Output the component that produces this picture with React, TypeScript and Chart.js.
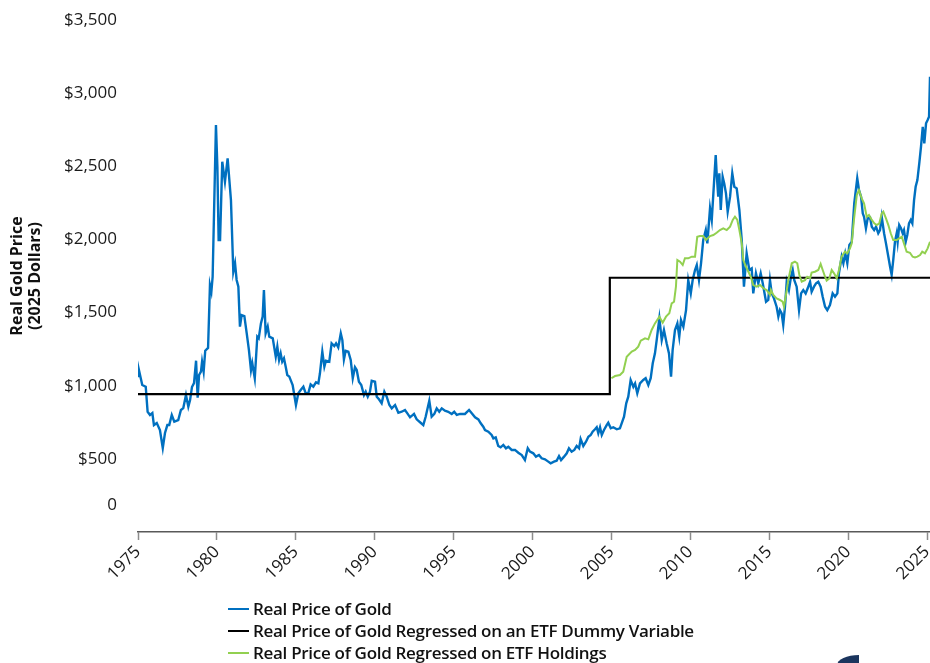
import React, { useEffect, useRef } from "react";
import { Chart, registerables } from "chart.js";

Chart.register(...registerables);

// ---- Data (year, real price in 2025 dollars) ----
const realPriceOfGold: [number, number][] = [
  [1975.0, 1066], [1975.06, 1107], [1975.27, 1005], [1975.49, 993], [1975.61, 822], [1975.76, 800], [1975.91, 813],
  [1976.01, 731], [1976.19, 745], [1976.39, 697], [1976.57, 574], [1976.71, 677], [1976.86, 731], [1976.98, 731],
  [1977.14, 800], [1977.3, 754], [1977.55, 765], [1977.72, 834], [1977.87, 847], [1978.04, 936], [1978.19, 857],
  [1978.3, 902], [1978.42, 991], [1978.55, 1018], [1978.68, 1171], [1978.78, 918], [1978.87, 1073], [1978.99, 1096],
  [1979.06, 1164], [1979.16, 1096], [1979.26, 1239], [1979.44, 1258], [1979.56, 1688], [1979.65, 1643], [1979.73, 1745],
  [1979.94, 2782], [1980.03, 2497], [1980.11, 1996], [1980.2, 1996], [1980.34, 2531], [1980.51, 2394], [1980.68, 2554],
  [1980.89, 2269], [1981.04, 1779], [1981.15, 1837], [1981.25, 1723], [1981.36, 1677], [1981.46, 1404], [1981.57, 1483],
  [1981.74, 1476], [1981.89, 1358], [1982.03, 1244], [1982.16, 1107], [1982.24, 1155], [1982.4, 1051], [1982.56, 1335],
  [1982.65, 1324], [1982.79, 1426], [1982.9, 1472], [1982.98, 1654], [1983.09, 1358], [1983.22, 1404], [1983.32, 1335],
  [1983.54, 1324], [1983.73, 1198], [1983.83, 1267], [1983.94, 1176], [1984.04, 1221], [1984.14, 1164], [1984.25, 1187],
  [1984.36, 1130], [1984.46, 1073], [1984.59, 1062], [1984.8, 1005], [1985.01, 868], [1985.16, 948], [1985.31, 971],
  [1985.48, 993], [1985.63, 948], [1985.79, 948], [1985.94, 1009], [1986.11, 993], [1986.28, 1023], [1986.43, 1016],
  [1986.53, 1085], [1986.68, 1233], [1986.81, 1130], [1986.91, 1171], [1987.12, 1164], [1987.27, 1290], [1987.44, 1271],
  [1987.55, 1290], [1987.69, 1262], [1987.85, 1358], [1987.95, 1312], [1988.05, 1180], [1988.16, 1239], [1988.33, 1233],
  [1988.48, 1176], [1988.61, 1051], [1988.75, 1126], [1988.86, 1107], [1989.0, 1027], [1989.15, 1005], [1989.32, 936],
  [1989.43, 959], [1989.56, 925], [1989.7, 959], [1989.81, 1034], [1990.02, 1027], [1990.13, 925], [1990.27, 907],
  [1990.44, 880], [1990.61, 959], [1990.76, 925], [1990.93, 868], [1991.08, 845], [1991.29, 868], [1991.5, 815],
  [1991.71, 822], [1991.92, 834], [1992.07, 811], [1992.24, 784], [1992.49, 807], [1992.66, 770], [1992.91, 747],
  [1993.08, 731], [1993.23, 788], [1993.46, 897], [1993.61, 788], [1993.78, 807], [1993.93, 845], [1994.09, 822],
  [1994.25, 845], [1994.45, 829], [1994.66, 822], [1994.88, 807], [1995.04, 822], [1995.2, 800], [1995.41, 807],
  [1995.72, 807], [1995.98, 834], [1996.19, 807], [1996.36, 784], [1996.57, 770], [1996.72, 743], [1996.88, 720],
  [1996.99, 697], [1997.2, 686], [1997.41, 663], [1997.52, 640], [1997.67, 647], [1997.83, 588], [1997.98, 579],
  [1998.15, 595], [1998.32, 572], [1998.47, 583], [1998.68, 561], [1998.89, 561], [1999.1, 542], [1999.32, 526],
  [1999.52, 492], [1999.7, 572], [1999.84, 549], [2000.05, 538], [2000.22, 515], [2000.41, 526], [2000.58, 504],
  [2000.79, 497], [2001.0, 481], [2001.15, 470], [2001.36, 481], [2001.53, 487], [2001.68, 519], [2001.81, 492],
  [2002.0, 515], [2002.17, 538], [2002.31, 572], [2002.48, 549], [2002.65, 561], [2002.8, 588], [2002.95, 572],
  [2003.05, 636], [2003.22, 588], [2003.39, 617], [2003.54, 651], [2003.69, 663], [2003.81, 686], [2003.96, 702],
  [2004.07, 716], [2004.17, 675], [2004.28, 716], [2004.39, 663], [2004.53, 697], [2004.7, 731], [2004.8, 747],
  [2004.96, 709], [2005.12, 716], [2005.34, 702], [2005.54, 709], [2005.69, 754], [2005.8, 788], [2005.94, 880],
  [2006.07, 925], [2006.22, 1039], [2006.39, 993], [2006.5, 1016], [2006.64, 948], [2006.81, 1016], [2007.02, 1039],
  [2007.17, 1051], [2007.34, 1005], [2007.49, 1051], [2007.62, 1153], [2007.76, 1221], [2007.87, 1312], [2008.04, 1461],
  [2008.19, 1312], [2008.33, 1381], [2008.5, 1290], [2008.65, 1221], [2008.78, 1062], [2008.88, 1244], [2009.03, 1381],
  [2009.18, 1426], [2009.3, 1335], [2009.41, 1449], [2009.56, 1404], [2009.73, 1517], [2009.87, 1722], [2010.03, 1631],
  [2010.15, 1722], [2010.3, 1791], [2010.41, 1825], [2010.55, 1722], [2010.68, 1837], [2010.82, 1996], [2010.98, 2064],
  [2011.08, 1973], [2011.25, 2213], [2011.36, 2133], [2011.5, 2383], [2011.61, 2577], [2011.67, 2452], [2011.77, 2292],
  [2011.84, 2452], [2011.93, 2201], [2012.05, 2429], [2012.15, 2383], [2012.26, 2315], [2012.37, 2190], [2012.52, 2292],
  [2012.66, 2452], [2012.79, 2360], [2012.94, 2349], [2013.11, 2201], [2013.26, 1996], [2013.4, 1677], [2013.57, 1905],
  [2013.74, 1791], [2013.89, 1802], [2013.99, 1631], [2014.16, 1768], [2014.31, 1700], [2014.46, 1768], [2014.59, 1700],
  [2014.8, 1574], [2014.94, 1586], [2015.05, 1722], [2015.16, 1631], [2015.3, 1597], [2015.47, 1540], [2015.58, 1472],
  [2015.68, 1517], [2015.79, 1495], [2015.89, 1415], [2016.0, 1540], [2016.11, 1711], [2016.25, 1654], [2016.38, 1745],
  [2016.49, 1791], [2016.59, 1722], [2016.74, 1677], [2016.89, 1517], [2017.02, 1631], [2017.16, 1654], [2017.31, 1631],
  [2017.44, 1666], [2017.59, 1711], [2017.69, 1643], [2017.84, 1677], [2017.97, 1700], [2018.11, 1711], [2018.26, 1677],
  [2018.39, 1608], [2018.54, 1540], [2018.68, 1517], [2018.85, 1552], [2019.02, 1631], [2019.17, 1608], [2019.32, 1631],
  [2019.42, 1768], [2019.59, 1882], [2019.7, 1837], [2019.82, 1905], [2019.95, 1837], [2020.08, 1962], [2020.23, 1984],
  [2020.39, 2247], [2020.58, 2418], [2020.69, 2338], [2020.82, 2292], [2020.93, 2178], [2021.01, 2155], [2021.13, 2076],
  [2021.24, 2144], [2021.39, 2150], [2021.5, 2087], [2021.65, 2064], [2021.77, 2087], [2021.91, 2042], [2022.02, 2064],
  [2022.13, 2155], [2022.28, 2042], [2022.4, 1973], [2022.55, 1882], [2022.66, 1813], [2022.76, 1757], [2022.86, 1859],
  [2022.97, 1984], [2023.08, 2042], [2023.14, 1984], [2023.24, 2098], [2023.35, 2076], [2023.46, 2042], [2023.54, 2064],
  [2023.65, 1984], [2023.75, 2030], [2023.86, 2110], [2023.97, 2133], [2024.07, 2110], [2024.18, 2269], [2024.28, 2360],
  [2024.39, 2406], [2024.51, 2520], [2024.62, 2634], [2024.73, 2770], [2024.83, 2657], [2024.94, 2794], [2025.04, 2816],
  [2025.13, 2839], [2025.19, 3112], [2025.3, 3160],
];

const etfDummyRegression: [number, number][] = [
  [1975.0, 943], [2004.9, 1738], [2025.3, 1738],
];

const etfHoldingsRegression: [number, number][] = [
  [2005.0, 1051], [2005.23, 1066], [2005.54, 1073], [2005.75, 1096], [2005.97, 1198], [2006.29, 1233], [2006.5, 1244],
  [2006.7, 1267], [2006.86, 1308], [2007.13, 1324], [2007.34, 1317], [2007.55, 1381], [2007.76, 1426], [2008.04, 1472],
  [2008.25, 1431], [2008.46, 1472], [2008.67, 1495], [2008.82, 1563], [2008.97, 1574], [2009.09, 1677], [2009.18, 1859],
  [2009.35, 1848], [2009.52, 1825], [2009.66, 1871], [2009.87, 1871], [2010.09, 1882], [2010.3, 1882], [2010.44, 2018],
  [2010.61, 2023], [2010.82, 2023], [2010.99, 1996], [2011.25, 2023], [2011.46, 2030], [2011.67, 2046], [2011.88, 2064],
  [2012.09, 2076], [2012.31, 2064], [2012.52, 2087], [2012.69, 2133], [2012.83, 2155], [2012.98, 2133], [2013.11, 2064],
  [2013.26, 1973], [2013.36, 1859], [2013.53, 1813], [2013.68, 1779], [2013.83, 1745], [2013.99, 1688], [2014.21, 1677],
  [2014.42, 1688], [2014.63, 1666], [2014.84, 1654], [2015.05, 1620], [2015.11, 1654], [2015.26, 1620], [2015.47, 1597],
  [2015.68, 1586], [2015.85, 1574], [2015.94, 1540], [2016.11, 1654], [2016.21, 1722], [2016.43, 1837], [2016.63, 1848],
  [2016.78, 1837], [2016.91, 1757], [2017.06, 1711], [2017.27, 1722], [2017.41, 1745], [2017.59, 1734], [2017.69, 1773],
  [2017.9, 1779], [2018.11, 1791], [2018.26, 1832], [2018.39, 1791], [2018.54, 1745], [2018.64, 1718], [2018.81, 1734],
  [2018.96, 1791], [2019.11, 1768], [2019.28, 1734], [2019.42, 1791], [2019.59, 1882], [2019.8, 1916], [2019.95, 1905],
  [2020.12, 1939], [2020.23, 1973], [2020.37, 2133], [2020.55, 2303], [2020.69, 2338], [2020.86, 2281], [2021.01, 2247],
  [2021.18, 2155], [2021.32, 2167], [2021.5, 2133], [2021.66, 2110], [2021.81, 2098], [2021.98, 2110], [2022.13, 2178],
  [2022.23, 2190], [2022.4, 2144], [2022.55, 2098], [2022.7, 2042], [2022.86, 1996], [2023.08, 1996], [2023.24, 2007],
  [2023.4, 2018], [2023.54, 1973], [2023.71, 1916], [2023.92, 1909], [2024.09, 1882], [2024.24, 1877], [2024.39, 1882],
  [2024.56, 1893], [2024.7, 1916], [2024.87, 1905], [2025.04, 1939], [2025.19, 1984], [2025.3, 2000],
];

const xTickYears = [1975, 1980, 1985, 1990, 1995, 2000, 2005, 2010, 2015, 2020, 2025];
const yTickValues = [185, 500, 1000, 1500, 2000, 2500, 3000, 3500];
const yTickLabels = ["0", "$500", "$1,000", "$1,500", "$2,000", "$2,500", "$3,000", "$3,500"];
const yAxisTitle = ["Real Gold Price", "(2025 Dollars)"];

const seriesNames = [
  "Real Price of Gold",
  "Real Price of Gold Regressed on an ETF Dummy Variable",
  "Real Price of Gold Regressed on ETF Holdings",
];
const seriesColors = ["#0070C0", "#000000", "#92D050"];

const toXY = (arr: [number, number][]) => arr.map(([x, y]) => ({ x, y }));

export default function App() {
  const canvasRef = useRef<HTMLCanvasElement | null>(null);

  useEffect(() => {
    if (!canvasRef.current) return;
    Chart.defaults.font.family = "'Open Sans', sans-serif";
    const chart = new Chart(canvasRef.current, {
      type: "line",
      data: {
        datasets: [
          {
            label: seriesNames[0],
            data: toXY(realPriceOfGold),
            borderColor: seriesColors[0],
            borderWidth: 2.4,
            pointRadius: 0,
            tension: 0,
            order: 2,
          },
          {
            label: seriesNames[1],
            data: toXY(etfDummyRegression),
            borderColor: seriesColors[1],
            borderWidth: 2.2,
            pointRadius: 0,
            stepped: "before",
            order: 1,
          },
          {
            label: seriesNames[2],
            data: toXY(etfHoldingsRegression),
            borderColor: seriesColors[2],
            borderWidth: 2,
            pointRadius: 0,
            tension: 0,
            order: 0,
          },
        ],
      },
      options: {
        animation: false,
        responsive: true,
        maintainAspectRatio: false,
        events: [],
        layout: { padding: { top: 20, left: 0, right: 0, bottom: 0 } },
        plugins: {
          legend: { display: false },
          tooltip: { enabled: false },
        },
        scales: {
          x: {
            type: "linear",
            min: 1975,
            max: 2025.19,
            afterBuildTicks: (scale: any) => {
              scale.ticks = xTickYears.map((v) => ({ value: v }));
            },
            afterFit: (scale: any) => {
              scale.height = 131;
              scale.paddingRight = 0;
              scale.paddingLeft = 0;
            },
            grid: {
              display: true,
              drawOnChartArea: false,
              drawTicks: true,
              tickLength: 8,
              tickColor: "#8c8c8c",
              tickWidth: 1.5,
            },
            border: { display: true, color: "#595959", width: 1.5 },
            ticks: {
              autoSkip: false,
              minRotation: 45,
              maxRotation: 45,
              padding: 2,
              color: "#1a1a1a",
              font: { size: 17 },
              callback: (v: any) => String(v),
            },
          },
          y: {
            type: "linear",
            min: 0,
            max: 3500,
            afterBuildTicks: (scale: any) => {
              scale.ticks = yTickValues.map((v) => ({ value: v }));
            },
            afterFit: (scale: any) => {
              scale.width = 138;
              scale.paddingTop = 0;
              scale.paddingBottom = 0;
            },
            grid: { display: false, drawTicks: false },
            border: { display: false },
            ticks: {
              autoSkip: false,
              padding: 21,
              color: "#1a1a1a",
              font: { size: 17 },
              callback: (_v: any, i: number) => yTickLabels[i],
            },
            title: {
              display: true,
              text: yAxisTitle,
              color: "#111",
              font: { size: 16, weight: "bold", lineHeight: 1.15 },
              padding: { top: 8, bottom: 0 },
            },
          },
        },
      } as any,
    });
    return () => chart.destroy();
  }, []);

  return (
    <div
      style={{
        position: "fixed",
        left: 0,
        top: 0,
        width: 930,
        height: 663,
        overflow: "hidden",
        background: "#ffffff",
      }}
    >
      <div style={{ position: "absolute", left: 0, top: 0, width: 930, height: 663 }}>
        <canvas ref={canvasRef} />
      </div>
      <div
        style={{
          position: "absolute",
          left: 228,
          top: 598,
          fontFamily: "'Open Sans', sans-serif",
          fontWeight: 600,
          fontSize: 17,
          letterSpacing: "-0.3px",
          color: "#111",
        }}
      >
        {seriesNames.map((name, i) => (
          <div key={name} style={{ display: "flex", alignItems: "center", height: 22 }}>
            <span
              style={{
                display: "inline-block",
                width: 21,
                height: 2,
                background: seriesColors[i],
                marginRight: 4,
              }}
            />
            <span style={{ lineHeight: "22px", whiteSpace: "nowrap" }}>{name}</span>
          </div>
        ))}
      </div>
      <div
        style={{
          position: "absolute",
          left: 837,
          top: 655,
          width: 22,
          height: 10,
          background: "#1b355e",
          borderTopLeftRadius: "100% 100%",
        }}
      />
    </div>
  );
}
